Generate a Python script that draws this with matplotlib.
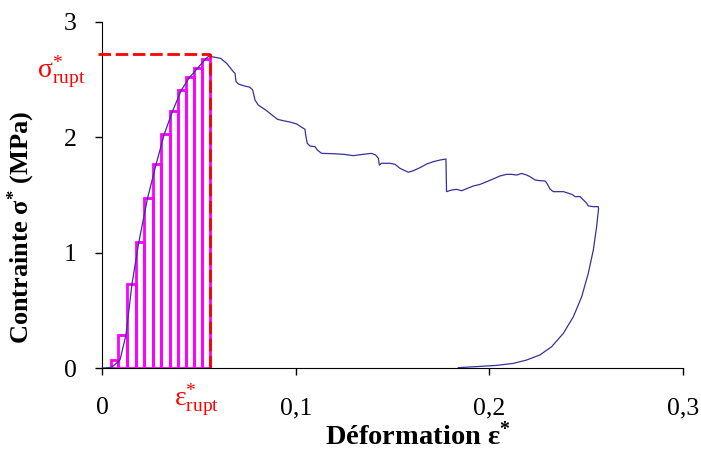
import numpy as np
import matplotlib.pyplot as plt

# stress-strain curve: loading
load_strain = [0.0005, 0.005, 0.0093, 0.0124, 0.0155, 0.0190, 0.0235, 0.0280, 0.0322,
               0.0365, 0.0410, 0.0452, 0.0494, 0.0535, 0.0563]
load_stress = [0.0, 0.006, 0.07, 0.29, 0.73, 1.09, 1.47, 1.77, 2.03,
               2.23, 2.41, 2.52, 2.60, 2.68, 2.72]

# softening after the peak
soft_strain = [0.0566, 0.0612, 0.0644, 0.0678, 0.0687, 0.0692, 0.0704, 0.0730, 0.0764, 0.0778,
               0.0790, 0.0807, 0.0850, 0.0884, 0.0907, 0.0936, 0.0970, 0.1005, 0.1031, 0.1048,
               0.1053, 0.1060, 0.1074, 0.1100, 0.1112, 0.1134, 0.1194, 0.1246, 0.1298, 0.1349,
               0.1392, 0.1413, 0.1427, 0.1432, 0.1444, 0.1487, 0.1513, 0.1539, 0.1582, 0.1608,
               0.1642, 0.1677, 0.1711, 0.1745, 0.1776, 0.1779, 0.1805, 0.1831, 0.1857, 0.1883,
               0.1917, 0.1952, 0.1986, 0.2020, 0.2055, 0.2089, 0.2115, 0.2141, 0.2167, 0.2193,
               0.2210, 0.2236, 0.2262, 0.2288, 0.2297, 0.2314, 0.2331, 0.2357, 0.2383, 0.2409,
               0.2426, 0.2443, 0.2468, 0.2486, 0.2503, 0.2511, 0.2537, 0.2562]
soft_stress = [2.699, 2.685, 2.641, 2.569, 2.555, 2.483, 2.463, 2.448, 2.434, 2.411,
               2.324, 2.280, 2.231, 2.185, 2.156, 2.144, 2.133, 2.116, 2.087, 2.070,
               2.006, 1.948, 1.925, 1.919, 1.890, 1.861, 1.858, 1.853, 1.841, 1.853,
               1.861, 1.847, 1.818, 1.760, 1.775, 1.775, 1.766, 1.731, 1.697, 1.711,
               1.737, 1.769, 1.789, 1.803, 1.812, 1.529, 1.543, 1.549, 1.537, 1.555,
               1.578, 1.592, 1.615, 1.639, 1.665, 1.679, 1.679, 1.673, 1.687, 1.673,
               1.659, 1.630, 1.624, 1.622, 1.602, 1.550, 1.529, 1.529, 1.529, 1.515,
               1.506, 1.486, 1.486, 1.457, 1.428, 1.405, 1.399, 1.399]

# unloading
unload_strain = [0.2564, 0.2554, 0.2537, 0.2511, 0.2477, 0.2434, 0.2382, 0.2322, 0.2261,
                 0.2192, 0.2123, 0.2038, 0.1951, 0.1840]
unload_stress = [1.38, 1.225, 1.023, 0.821, 0.618, 0.445, 0.300, 0.185, 0.113,
                 0.069, 0.040, 0.023, 0.014, 0.003]

# rectangles under the loading part
bar_edges = [0.0045, 0.0085, 0.0130, 0.0176, 0.0219, 0.0264, 0.0305, 0.0349, 0.0392,
             0.0434, 0.0475, 0.0516, 0.0558]
bar_heights = [0.07, 0.29, 0.73, 1.09, 1.47, 1.77, 2.03, 2.23, 2.41, 2.52, 2.60, 2.68]

eps_rupt = 0.0558
sig_rupt = 2.72

xticks = [0, 0.1, 0.2, 0.3]
xtick_labels = ["0", "0,1", "0,2", "0,3"]
yticks = [0, 1, 2, 3]

plt.rcParams['font.family'] = ['Liberation Serif', 'DejaVu Serif']
plt.rcParams['mathtext.fontset'] = 'custom'
plt.rcParams['mathtext.rm'] = 'Liberation Serif'
plt.rcParams['mathtext.it'] = 'Liberation Serif:italic'
plt.rcParams['mathtext.bf'] = 'Liberation Serif:bold'

fig = plt.figure(figsize=(7.01, 4.57), dpi=100)
ax = fig.add_axes([0.1455, 0.1947, 0.8288, 0.7572])

lefts = bar_edges[:-1]
widths = np.diff(bar_edges)
ax.bar(lefts, bar_heights, width=widths, align='edge', fill=False,
       edgecolor='#FF00FF', linewidth=2, zorder=2)

strain = load_strain + soft_strain + unload_strain
stress = load_stress + soft_stress + unload_stress
ax.plot(strain, stress, color='#333399', linewidth=0.9, zorder=3)

ax.plot([-0.002, eps_rupt], [sig_rupt, sig_rupt], color='#FF0000', linewidth=2,
        dashes=(4.5, 1.7), clip_on=False, zorder=4)
ax.plot([eps_rupt, eps_rupt], [0, sig_rupt], color='#FF0000', linewidth=2,
        dashes=(4.5, 1.7), zorder=4)

ax.set_xlim(0, 0.3)
ax.set_ylim(0, 3)
ax.set_xticks(xticks)
ax.set_xticklabels(xtick_labels)
ax.set_yticks(yticks)
ax.tick_params(axis='both', direction='out', length=5, labelsize=18.5, width=1)
ax.tick_params(axis='x', pad=16)
ax.tick_params(axis='y', pad=13)
ax.spines['top'].set_visible(False)
ax.spines['right'].set_visible(False)

ax.set_xlabel(r"Déformation ε$^{\mathbf{*}}$", fontsize=20.5, fontweight='bold')
ax.set_ylabel(r"Contrainte σ$^{\mathbf{*}}$ (MPa)", fontsize=19, fontweight='bold')
ax.xaxis.set_label_coords(0.544, -0.155)
ax.yaxis.set_label_coords(-0.112, 0.405)

ax.text(-0.021, 2.57, r"σ$^{*}_{\mathregular{rupt}}$", color='#FF0000', fontsize=20,
        ha='center', va='center')
ax.text(0.049, -0.27, r"ε$^{*}_{\mathregular{rupt}}$", color='#FF0000', fontsize=20,
        ha='center', va='center')

fig.savefig("out.png", dpi=100)
